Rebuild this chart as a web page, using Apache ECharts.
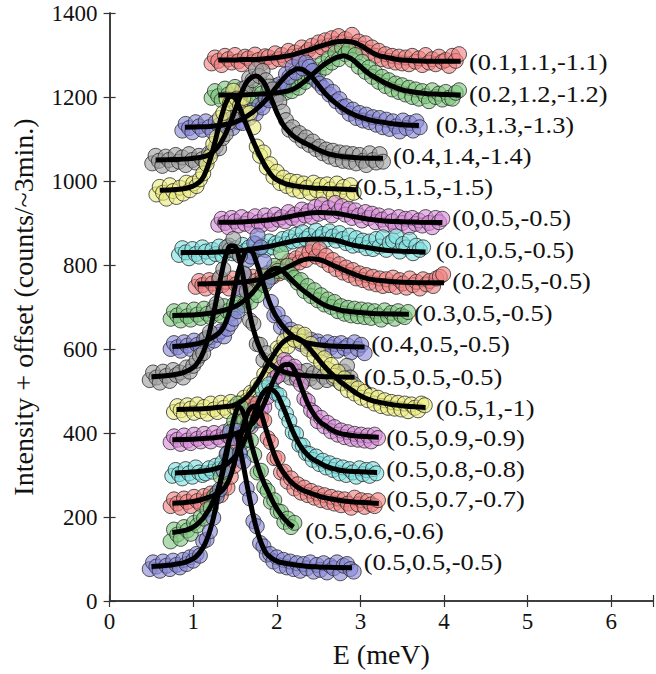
<!DOCTYPE html>
<html><head><meta charset="utf-8">
<script src="https://cdn.jsdelivr.net/npm/echarts@6/dist/echarts.min.js"></script>
<style>html,body{margin:0;padding:0;background:#fff}#c{width:656px;height:674px}</style>
</head><body><div id="c"></div>
<script>
// Q labels, one per scan, from top to bottom
const qLabels = ['(0.1,1.1,-1.1)','(0.2,1.2,-1.2)','(0.3,1.3,-1.3)','(0.4,1.4,-1.4)','(0.5,1.5,-1.5)',
  '(0,0.5,-0.5)','(0.1,0.5,-0.5)','(0.2,0.5,-0.5)','(0.3,0.5,-0.5)','(0.4,0.5,-0.5)','(0.5,0.5,-0.5)',
  '(0.5,1,-1)','(0.5,0.9,-0.9)','(0.5,0.8,-0.8)','(0.5,0.7,-0.7)','(0.5,0.6,-0.6)','(0.5,0.5,-0.5)'];
const markerColors = ['rgba(240,128,128,0.78)','rgba(128,200,128,0.78)','rgba(136,136,216,0.78)','rgba(160,160,160,0.78)',
  'rgba(236,236,128,0.78)','rgba(216,140,216,0.78)','rgba(128,224,224,0.78)'];
// scan grid (meV): first energy of each scan, energy step of the scans
const scanStart = [1.22,1.22,0.87,0.51,0.56,1.30,0.83,1.03,0.73,0.73,0.48,0.77,0.73,0.75,0.73,0.73,0.48];
const scanStep = 0.04;
// measured intensity + offset (counts / ~3 min)
const s01 = [1280,1294,1286,1276,1298,1290,1282,1300,1285,1278,1296,1292,1283,1301,1288,1280,1297,1295,1284,1304,1290,1300,1288,1310,1296,1306,1298,1318,1305,1312,1322,1308,1330,1318,1335,1322,1340,1326,1345,1330,1338,1325,1348,1322,1332,1315,1328,1306,1318,1298,1310,1290,1302,1286,1298,1282,1296,1280,1294,1278,1298,1284,1292,1276,1300,1282,1290,1278,1296,1284,1288,1274,1298,1286,1302];
const s02 = [1198,1214,1202,1192,1220,1206,1196,1224,1200,1212,1194,1218,1204,1198,1222,1208,1196,1216,1202,1226,1206,1220,1210,1225,1214,1230,1222,1240,1236,1250,1248,1265,1258,1280,1270,1292,1282,1305,1290,1318,1302,1312,1288,1300,1272,1284,1260,1270,1248,1258,1236,1248,1226,1240,1218,1232,1212,1228,1206,1222,1200,1218,1196,1214,1202,1190,1216,1200,1208,1194,1212,1198,1196,1210,1216];
const s03 = [1120,1136,1126,1116,1140,1130,1122,1142,1128,1118,1140,1132,1124,1146,1134,1126,1150,1140,1138,1156,1150,1168,1160,1180,1175,1196,1192,1212,1205,1230,1226,1255,1248,1272,1258,1285,1268,1282,1272,1262,1240,1232,1222,1226,1206,1212,1190,1195,1176,1178,1160,1170,1150,1162,1144,1158,1140,1152,1134,1150,1128,1146,1124,1142,1130,1118,1144,1126,1138,1120,1142,1128];
const s04 = [1042,1060,1048,1036,1058,1050,1040,1062,1046,1056,1038,1064,1050,1044,1060,1052,1046,1066,1070,1082,1078,1102,1112,1140,1150,1185,1192,1220,1222,1245,1240,1266,1250,1262,1240,1225,1218,1196,1188,1165,1145,1122,1128,1110,1114,1096,1104,1086,1094,1076,1082,1066,1075,1058,1072,1052,1068,1048,1066,1046,1064,1042,1062,1048,1038,1066,1050,1044,1064,1046];
const s05 = [968,986,972,958,990,976,962,984,970,996,978,994,988,1004,1018,1040,1058,1088,1104,1150,1162,1195,1185,1215,1196,1180,1198,1160,1162,1128,1082,1060,1068,1032,1040,1010,1022,995,1008,988,1000,980,998,976,994,984,972,996,978,990,968,992,980,966,994,976,986,964,990,972];
const s06 = [896,910,900,890,912,904,894,914,898,908,892,916,902,896,918,906,898,920,908,914,904,926,912,920,908,932,918,928,914,938,922,944,926,936,918,948,928,940,920,934,912,930,918,906,926,912,922,902,918,908,896,916,904,892,914,900,910,890,912,898,906,894,914,900,890,912,902,910];
const s07 = [824,840,830,816,838,826,820,842,832,818,836,826,844,822,834,846,828,840,824,848,834,842,830,850,838,846,836,856,842,852,848,862,850,866,856,872,858,878,862,870,856,882,866,874,860,880,868,858,876,862,852,870,846,864,848,858,840,856,838,862,844,866,836,852,858,868,832,850,842,860,828,846,836,842];
const s08 = [748,762,752,744,764,756,746,766,752,760,744,768,754,748,770,758,750,772,762,756,776,766,782,772,790,780,798,788,810,800,816,806,826,812,830,842,820,838,812,822,800,812,790,802,782,794,776,788,768,780,764,776,758,772,754,768,750,766,752,770,748,764,756,746,768,752,760,744,766,754,762,750,768,772,778];
const s09 = [672,690,680,668,692,678,670,694,682,674,696,684,676,698,686,680,702,690,684,706,698,712,704,722,712,735,728,758,752,780,772,798,786,830,784,798,778,770,758,764,738,750,726,740,716,728,706,718,700,712,690,702,684,698,680,696,678,694,676,692,674,690,680,670,692,678,686,672,690,680,676,688];
const s10 = [600,614,604,596,616,608,600,620,610,604,622,612,628,620,634,642,630,648,660,672,690,742,778,812,820,852,870,842,808,762,712,680,684,652,662,636,646,622,632,612,628,606,622,600,618,610,598,616,604,612,596,614,602,608,592,616,600,610,590];
const s11 = [526,544,532,520,546,536,524,550,538,544,532,556,546,560,572,584,590,626,640,690,708,770,790,842,836,862,830,822,780,738,668,660,612,610,574,590,556,570,546,562,540,554,532,550,528,546,524,548,530,542,522,544,534,526,548,530,540,520,546,560,532,516];
const s12 = [450,464,454,444,466,458,448,468,452,462,446,470,456,450,472,460,452,474,462,456,472,484,478,496,494,514,512,540,532,560,574,602,598,620,606,636,622,640,618,634,600,612,584,596,568,578,552,562,536,546,518,530,502,514,494,506,484,498,478,490,470,484,464,478,460,474,458,472,456,470,452,468,460,454,470,466];
const s13 = [378,392,384,374,394,382,376,396,386,380,398,388,380,400,390,384,402,394,388,406,396,410,404,420,416,434,430,458,462,486,506,530,536,556,574,566,552,558,534,516,482,476,454,448,428,436,416,424,404,414,396,406,390,402,386,398,384,396,382,394,380,396,388];
const s14 = [298,312,302,292,314,304,296,318,306,300,304,316,308,322,314,330,320,340,334,356,352,378,384,420,430,468,478,500,508,516,502,494,490,470,446,428,402,398,372,370,352,350,336,344,326,334,318,328,312,322,304,318,300,314,306,296,316,302,312,298,314,304];
const s15 = [226,242,232,222,244,236,226,248,238,230,250,240,256,246,258,252,272,270,296,322,372,386,432,440,470,458,470,436,430,388,378,340,340,306,308,284,292,268,278,258,270,252,262,246,256,240,252,236,248,232,244,228,242,232,222,246,230,240,224,238,230,226,240];
const s16 = [142,170,158,148,176,168,160,186,180,200,196,218,222,250,258,296,308,352,410,428,470,462,430,418,382,348,306,310,272,262,236,240,214,212,188,196,176,186];
const s17 = [76,92,82,72,94,84,76,96,86,80,98,88,104,96,112,108,142,146,166,198,248,266,312,350,402,388,405,352,332,268,244,190,178,138,130,110,112,94,104,84,98,80,94,76,90,72,88,78,92,70,86,74,90,68,84,78,92,66,84,88,76,70];
// fitted curves [E, intensity]
const f01 = [[1.3,1288],[1.4,1288],[1.5,1288],[1.6,1289],[1.7,1289],[1.8,1290],[1.9,1292],[2.0,1294],[2.1,1297],[2.2,1301],[2.3,1307],[2.4,1313],[2.5,1320],[2.6,1326],[2.7,1331],[2.8,1333],[2.9,1331],[3.0,1323],[3.1,1311],[3.2,1300],[3.3,1295],[3.4,1291],[3.5,1288],[3.6,1287],[3.7,1286],[3.8,1285],[3.9,1285],[4.0,1285],[4.1,1285],[4.2,1285]];
const f02 = [[1.3,1205],[1.5,1205],[1.7,1206],[1.8,1207],[1.9,1208],[2.0,1210],[2.1,1213],[2.2,1219],[2.3,1232],[2.4,1249],[2.5,1267],[2.6,1282],[2.7,1293],[2.75,1296],[2.8,1298],[2.85,1295],[2.9,1290],[3.0,1273],[3.1,1256],[3.2,1244],[3.3,1233],[3.4,1224],[3.5,1217],[3.6,1213],[3.7,1210],[3.8,1208],[3.9,1207],[4.0,1206],[4.2,1205]];
const f03 = [[0.9,1128],[1.1,1129],[1.2,1130],[1.3,1132],[1.4,1135],[1.5,1140],[1.6,1149],[1.7,1162],[1.8,1179],[1.9,1200],[2.0,1225],[2.1,1248],[2.15,1257],[2.2,1263],[2.25,1267],[2.3,1266],[2.35,1260],[2.4,1252],[2.5,1228],[2.6,1204],[2.7,1186],[2.8,1171],[2.9,1160],[3.0,1152],[3.1,1146],[3.2,1142],[3.3,1139],[3.4,1136],[3.5,1134],[3.7,1132]];
const f04 = [[0.55,1050],[0.8,1051],[1.0,1054],[1.1,1057],[1.2,1064],[1.3,1083],[1.35,1098],[1.4,1118],[1.45,1142],[1.5,1168],[1.55,1195],[1.6,1220],[1.65,1238],[1.7,1247],[1.75,1250],[1.8,1245],[1.85,1233],[1.9,1212],[1.95,1188],[2.0,1163],[2.05,1143],[2.1,1127],[2.2,1107],[2.3,1094],[2.4,1084],[2.5,1074],[2.6,1066],[2.7,1061],[2.8,1058],[3.0,1055],[3.27,1054]];
const f05 = [[0.6,978],[0.8,980],[0.9,982],[1.0,988],[1.05,994],[1.1,1003],[1.15,1022],[1.2,1050],[1.25,1085],[1.3,1125],[1.35,1162],[1.4,1190],[1.45,1202],[1.5,1197],[1.55,1177],[1.6,1152],[1.65,1127],[1.7,1103],[1.75,1080],[1.8,1059],[1.85,1040],[1.9,1024],[1.95,1011],[2.0,1003],[2.1,994],[2.2,989],[2.4,984],[2.6,982],[2.95,979]];
const f06 = [[1.3,902],[1.5,902],[1.7,904],[1.9,907],[2.1,913],[2.3,921],[2.5,925],[2.7,923],[2.9,916],[3.1,909],[3.3,905],[3.5,903],[3.7,902],[3.98,901]];
const f07 = [[0.85,830],[1.1,830],[1.3,831],[1.5,833],[1.7,838],[1.9,844],[2.1,853],[2.3,860],[2.5,862],[2.7,859],[2.9,848],[3.1,841],[3.3,835],[3.5,833],[3.78,831]];
const f08 = [[1.05,755],[1.3,756],[1.5,758],[1.7,762],[1.9,772],[2.1,792],[2.2,802],[2.3,811],[2.4,815],[2.5,813],[2.6,806],[2.7,797],[2.9,780],[3.1,767],[3.3,762],[3.5,759],[3.7,758],[4.0,758]];
const f09 = [[0.75,680],[1.0,681],[1.2,685],[1.4,694],[1.5,701],[1.6,714],[1.7,732],[1.8,757],[1.85,771],[1.9,783],[1.95,790],[2.0,792],[2.05,788],[2.1,780],[2.2,760],[2.3,742],[2.4,727],[2.5,713],[2.6,702],[2.7,696],[2.8,691],[3.0,687],[3.2,684],[3.58,683]];
const f10 = [[0.75,606],[0.9,608],[1.0,611],[1.1,615],[1.2,624],[1.3,637],[1.35,648],[1.4,668],[1.45,700],[1.5,748],[1.55,790],[1.6,820],[1.65,835],[1.7,832],[1.75,810],[1.8,780],[1.85,748],[1.9,718],[1.95,694],[2.0,675],[2.1,648],[2.2,630],[2.3,619],[2.4,613],[2.5,610],[2.6,608],[2.8,606],[3.05,605]];
const f11 = [[0.5,534],[0.7,537],[0.8,540],[0.9,545],[1.0,556],[1.05,567],[1.1,583],[1.15,608],[1.2,645],[1.25,690],[1.3,740],[1.35,790],[1.4,828],[1.45,846],[1.5,844],[1.55,815],[1.6,770],[1.65,712],[1.7,662],[1.75,627],[1.8,600],[1.85,582],[1.9,569],[2.0,553],[2.1,545],[2.2,540],[2.4,536],[2.6,534],[2.93,533]];
const f12 = [[0.8,456],[1.0,457],[1.2,459],[1.4,463],[1.5,467],[1.6,479],[1.7,500],[1.8,530],[1.9,566],[2.0,598],[2.05,611],[2.1,620],[2.15,626],[2.2,628],[2.25,626],[2.3,620],[2.4,599],[2.5,575],[2.6,552],[2.7,533],[2.8,516],[2.9,502],[3.0,489],[3.1,480],[3.2,474],[3.4,467],[3.6,463],[3.78,461]];
const f13 = [[0.75,384],[1.0,385],[1.2,388],[1.4,393],[1.5,398],[1.6,407],[1.7,421],[1.75,433],[1.8,450],[1.85,470],[1.9,495],[1.95,520],[2.0,541],[2.05,556],[2.1,563],[2.15,563],[2.2,554],[2.25,533],[2.3,505],[2.35,480],[2.4,459],[2.5,430],[2.6,415],[2.7,403],[2.8,397],[3.0,392],[3.22,390]];
const f14 = [[0.78,305],[1.0,307],[1.2,312],[1.3,317],[1.4,326],[1.5,344],[1.55,358],[1.6,376],[1.65,400],[1.7,428],[1.75,458],[1.8,483],[1.85,499],[1.9,506],[1.95,503],[2.0,493],[2.05,473],[2.1,450],[2.15,424],[2.2,400],[2.25,380],[2.3,364],[2.4,342],[2.5,330],[2.6,320],[2.7,314],[2.8,310],[3.0,308],[3.2,306]];
const f15 = [[0.75,233],[1.0,237],[1.2,248],[1.3,256],[1.35,264],[1.4,277],[1.45,300],[1.5,335],[1.55,375],[1.6,418],[1.65,447],[1.7,462],[1.75,465],[1.8,452],[1.85,422],[1.9,390],[1.95,360],[2.0,334],[2.05,315],[2.1,300],[2.2,278],[2.3,265],[2.4,257],[2.5,250],[2.6,245],[2.8,238],[3.0,235],[3.22,232]];
const f16 = [[0.75,163],[0.9,168],[1.0,176],[1.1,193],[1.15,206],[1.2,222],[1.25,242],[1.3,268],[1.35,303],[1.4,350],[1.45,400],[1.5,443],[1.55,462],[1.6,448],[1.65,410],[1.7,370],[1.75,335],[1.8,305],[1.85,280],[1.9,259],[1.95,238],[2.0,220],[2.1,193],[2.2,176]];
const f17 = [[0.5,82],[0.7,85],[0.8,88],[0.9,92],[1.0,101],[1.05,109],[1.1,122],[1.15,140],[1.2,168],[1.25,205],[1.3,256],[1.35,310],[1.4,360],[1.45,392],[1.5,398],[1.55,370],[1.6,322],[1.65,270],[1.7,220],[1.75,178],[1.8,145],[1.85,122],[1.9,108],[2.0,95],[2.1,90],[2.3,84],[2.5,81],[2.7,80],[2.9,79]];
// label anchors [E, intensity]
const labelAnchor = [[4.30,1283],[4.30,1207],[3.90,1133],[3.39,1059],[2.93,985],[4.10,911],[3.90,837],[4.10,763],[3.64,687],[3.13,611],[3.04,534],[3.90,460],[3.31,389],[3.31,315],[3.31,243],[2.34,167],[3.04,93]];
const xTicks = [0,1,2,3,4,5,6];
const yTicks = [0,200,400,600,800,1000,1200,1400];

const measured = [s01,s02,s03,s04,s05,s06,s07,s08,s09,s10,s11,s12,s13,s14,s15,s16,s17];
const fits = [f01,f02,f03,f04,f05,f06,f07,f08,f09,f10,f11,f12,f13,f14,f15,f16,f17];
const FONT = "'Liberation Serif', serif";

const series = [];
measured.forEach((vals, k) => {
  series.push({
    type: 'scatter', symbol: 'circle', symbolSize: 15,
    itemStyle: { color: markerColors[k % 7], borderColor: '#2a2a2a', borderWidth: 1 },
    data: vals.map((v, i) => [+(scanStart[k] + i * scanStep).toFixed(3), v]),
    emphasis: { disabled: true }, silent: true
  });
  series.push({
    type: 'line', data: fits[k], smooth: 0.5, showSymbol: false,
    lineStyle: { color: '#000', width: 5 }, emphasis: { disabled: true }, silent: true
  });
});

const axisCommon = {
  type: 'value', axisLine: { show: true, lineStyle: { color: '#333', width: 1.5 } },
  axisTick: { show: true, inside: true, length: 6, lineStyle: { color: '#333', width: 1.2 } },
  splitLine: { show: false }
};
const chart = echarts.init(document.getElementById('c'), null, { renderer: 'svg' });
chart.setOption({
  animation: false,
  backgroundColor: '#fff',
  grid: { left: 109.6, top: 13, right: -3.5, bottom: 73, containLabel: false },
  xAxis: [
    Object.assign({}, axisCommon, { position: 'bottom', min: 0, max: 6.5, interval: 1,
      axisLabel: { fontFamily: FONT, fontSize: 23, color: '#111', margin: 9,
        formatter: v => xTicks.includes(v) ? String(v) : '' },
      name: 'E (meV)', nameLocation: 'middle', nameGap: 39,
      nameTextStyle: { fontFamily: FONT, fontSize: 28, color: '#111' } }),
    Object.assign({}, axisCommon, { position: 'top', min: 0, max: 6.5, interval: 1, axisLabel: { show: false } })
  ],
  yAxis: [
    Object.assign({}, axisCommon, { position: 'left', min: 0, max: 1400, interval: 200,
      axisLabel: { fontFamily: FONT, fontSize: 23, color: '#111', margin: 12,
        formatter: v => yTicks.includes(v) ? String(v) : '' },
      name: 'Intensity + offset (counts/~3min.)', nameLocation: 'middle', nameGap: 72,
      nameTextStyle: { fontFamily: FONT, fontSize: 28, color: '#111' } }),
    Object.assign({}, axisCommon, { position: 'right', min: 0, max: 1400, interval: 200, axisLabel: { show: false } })
  ],
  series: series
});

const graphics = qLabels.map((t, k) => {
  const p = chart.convertToPixel({ xAxisIndex: 0, yAxisIndex: 0 }, labelAnchor[k]);
  return { type: 'text', x: p[0], y: p[1], scaleX: 1.1, z: 100, silent: true,
    style: { text: t, font: '24px ' + FONT, fill: '#111', align: 'left', verticalAlign: 'middle',
      textAlign: 'left', textVerticalAlign: 'middle' } };
});
chart.setOption({ graphic: graphics });
</script>
</body></html>
